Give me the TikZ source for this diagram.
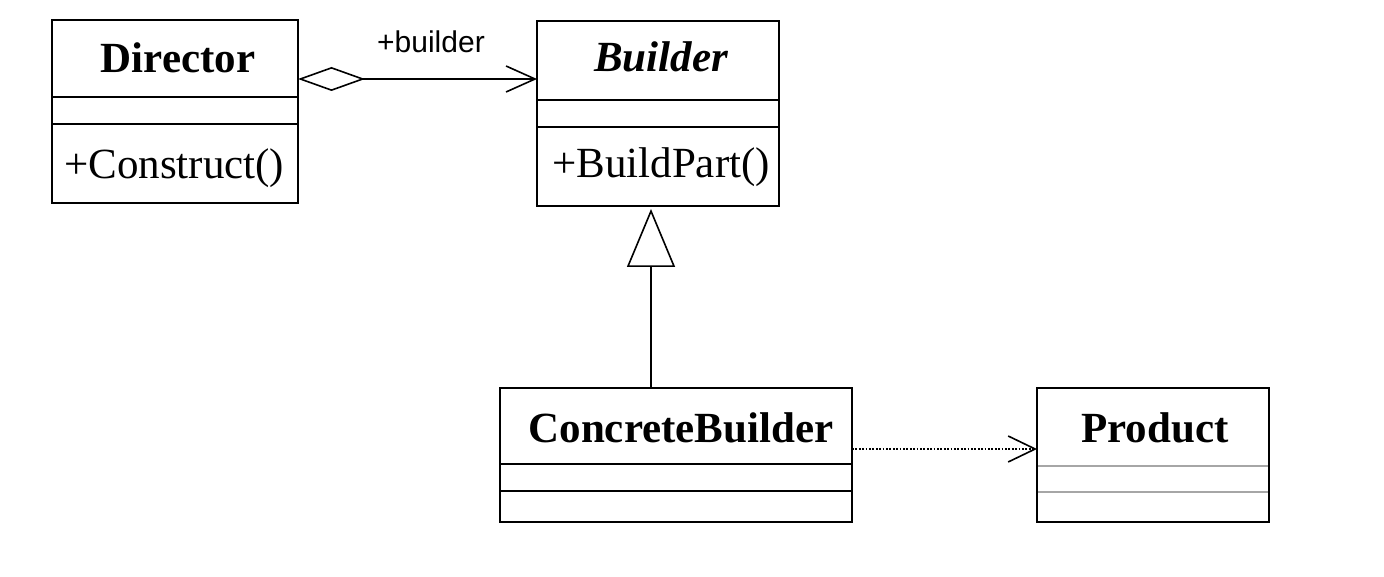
\documentclass[tikz,border=0pt]{standalone}
\usepackage{fontspec}
\setmainfont{Liberation Serif}
\newfontfamily\labfont{Liberation Sans}
\usetikzlibrary{arrows.meta}
\begin{document}
\begin{tikzpicture}[x=1pt,y=-1pt,
  cls/.style={draw, line width=2pt, inner sep=0pt, outer sep=0pt, anchor=north west},
  sep/.style={line width=2pt},
  gsep/.style={line width=2.6pt, draw=black!35},
  cname/.style={font=\fontsize{43}{50}\selectfont\bfseries, inner sep=0pt, anchor=base},
  meth/.style={font=\fontsize{43}{50}\selectfont, inner sep=0pt, anchor=base west},
  lab/.style={font=\labfont\fontsize{30}{34}\selectfont, inner sep=0pt, anchor=base west},
  conn/.style={line width=1.6pt},
]
\useasboundingbox[fill=white] (0,0) rectangle (1384,577);
% Director
\node[cls, minimum width=246, minimum height=183] (dir) at (52,20) {};
\draw[sep] ([yshift=-77pt]dir.north west) -- ([yshift=-77pt]dir.north east);
\draw[sep] ([yshift=-104pt]dir.north west) -- ([yshift=-104pt]dir.north east);
\node[cname] (dirn) at (178,73) {Director};
\node[meth] (dirm) at (64,179) {+Construct()};
% Builder
\node[cls, minimum width=242, minimum height=185] (bld) at (537,21) {};
\draw[sep] ([yshift=-79pt]bld.north west) -- ([yshift=-79pt]bld.north east);
\draw[sep] ([yshift=-106pt]bld.north west) -- ([yshift=-106pt]bld.north east);
\node[cname, font=\fontsize{43}{50}\selectfont\bfseries\itshape] (bldn) at (661,72) {Builder};
\node[meth] (bldm) at (552,178) {+BuildPart()};
% ConcreteBuilder
\node[cls, minimum width=352, minimum height=134] (cb) at (500,388) {};
\draw[sep] ([yshift=-76pt]cb.north west) -- ([yshift=-76pt]cb.north east);
\draw[sep] ([yshift=-103pt]cb.north west) -- ([yshift=-103pt]cb.north east);
\node[cname] (cbn) at (681,442) {ConcreteBuilder};
% Product
\node[cls, minimum width=232, minimum height=134] (prod) at (1037,388) {};
\draw[gsep] ([yshift=-78pt,xshift=1pt]prod.north west) -- ([yshift=-78pt,xshift=-1pt]prod.north east);
\draw[gsep] ([yshift=-104pt,xshift=1pt]prod.north west) -- ([yshift=-104pt,xshift=-1pt]prod.north east);
\node[cname] (prodn) at (1155,442) {Product};
% aggregation
\coordinate (ag) at (0,79);
\draw[conn, {Diamond[open,length=67pt,width=24pt]}-{Straight Barb[length=29pt,width=26pt]}] (dir.east |- ag) -- (bld.west |- ag);
\node[lab] (agl) at (377,53) {+builder};
% generalization
\coordinate (gx) at (651,0);
\draw[conn, -{Triangle[open,length=58pt,width=48pt]}] (cb.north -| gx) -- ([yshift=-3pt]bld.south -| gx);
% dependency
\coordinate (dp) at (0,449);
\draw[conn, line width=1.8pt, dash pattern=on 1.8pt off 1.6pt, -{Straight Barb[length=27pt,width=26pt,line width=1.6pt]}] (cb.east |- dp) -- (prod.west |- dp);
\end{tikzpicture}
\end{document}
